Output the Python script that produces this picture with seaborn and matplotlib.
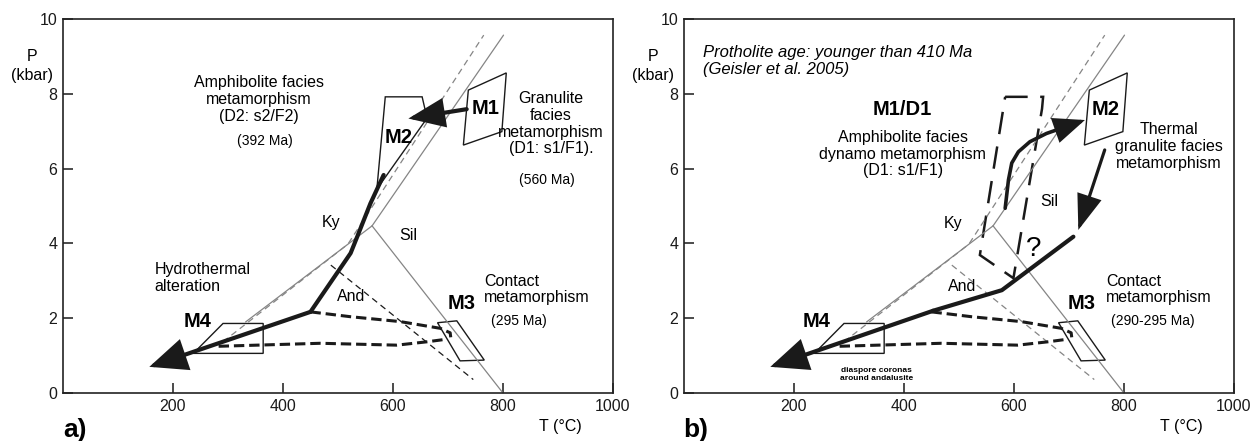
import matplotlib
matplotlib.use("Agg")
import matplotlib.pyplot as plt
from matplotlib.patches import Polygon
import seaborn as sns

# ---------------- data (T in degC, P in kbar) ----------------
x_ticks = [200, 400, 600, 800, 1000]
y_ticks = [0, 2, 4, 6, 8, 10]

# Aluminosilicate phase diagram (solid grey)
kysil_T = [562, 801]
kysil_P = [4.47, 9.57]
andky_T = [332, 562]
andky_P = [1.90, 4.47]
andsil_T = [562, 800]
andsil_P = [4.47, 0.0]
# alternative calibration (dashed)
kysil2_T = [291, 518, 765]
kysil2_P = [1.37, 3.98, 9.57]
andsil2_T = [487, 746]
andsil2_P = [3.42, 0.36]

# PT boxes
m1_T = [737, 806, 798, 728]
m1_P = [8.10, 8.56, 6.99, 6.63]
m2a_T = [586, 653, 662, 573, 571]
m2a_P = [7.92, 7.92, 7.35, 5.50, 5.50]
m3_T = [681, 716, 766, 722]
m3_P = [1.88, 1.93, 0.88, 0.86]
m4_T = [291, 364, 364, 237]
m4_P = [1.86, 1.86, 1.06, 1.06]
qbox_T = [584, 653, 651, 599, 538]
qbox_P = [7.92, 7.92, 7.60, 3.07, 3.69]

# PT paths panel a
patha_T = [583, 559, 535, 523, 450, 157]
patha_P = [5.83, 5.07, 4.18, 3.74, 2.17, 0.70]
m1arrow_T = [734, 628]
m1arrow_P = [7.59, 7.34]
# PT paths panel b
pathb_T = [708, 578, 453, 157]
pathb_P = [4.18, 2.75, 2.20, 0.70]
curve_T = [584, 590, 596, 608, 629, 659, 690, 729]
curve_P = [4.94, 5.70, 6.15, 6.45, 6.72, 6.94, 7.10, 7.30]
cool_T = [765, 717]
cool_P = [6.50, 4.36]
# dashed contact loops (both panels)
loopup_T = [450, 523, 613, 686, 704, 705]
loopup_P = [2.17, 2.04, 1.91, 1.73, 1.61, 1.49]
looplo_T = [283, 468, 607, 662, 698]
looplo_P = [1.25, 1.33, 1.28, 1.37, 1.44]

GREY = "#858585"

sns.set_theme(style="white")
plt.rcParams["font.family"] = ["Liberation Sans", "DejaVu Sans"]
plt.rcParams["text.color"] = "black"
plt.rcParams["axes.labelcolor"] = "black"
plt.rcParams["xtick.color"] = "black"
plt.rcParams["ytick.color"] = "black"

fig = plt.figure(figsize=(12.52, 4.41), dpi=100)
ax1 = fig.add_axes([0.0503, 0.1088, 0.4393, 0.848])
ax2 = fig.add_axes([0.5463, 0.1088, 0.4393, 0.848])


def line(ax, T, P, color="k", lw=1.0, dashes=None):
    n = len(ax.lines)
    sns.lineplot(x=T, y=P, sort=False, estimator=None, ax=ax,
                 color=color, linewidth=lw)
    ln = ax.lines[n]
    if dashes is not None:
        ln.set_dashes(dashes)
    ln.set_solid_joinstyle("round")
    ln.set_clip_on(False)
    return ln


def poly(ax, T, P, lw=1.0, dashes=None):
    p = Polygon(list(zip(T, P)), closed=True, fill=False, edgecolor="k",
                lw=lw, joinstyle="miter")
    if dashes is not None:
        p.set_linestyle((0, dashes))
    ax.add_patch(p)


def arrow(ax, T, P, lw, hl, hw):
    ax.annotate("", xy=(T[-1], P[-1]), xytext=(T[-2], P[-2]),
                arrowprops=dict(arrowstyle=f"-|>,head_length={hl},head_width={hw}",
                                mutation_scale=10, color="k", lw=lw,
                                shrinkA=0, shrinkB=0, joinstyle="miter"))


def frame(ax, label):
    ax.set_xlim(0, 1000)
    ax.set_ylim(0, 10)
    ax.set_xticks(x_ticks)
    ax.set_yticks(y_ticks)
    ax.set_xticklabels([str(v) for v in x_ticks])
    ax.set_yticklabels([str(v) for v in y_ticks])
    ax.tick_params(direction="in", length=7, width=1.1, labelsize=11.5,
                   colors="k", labelcolor="k", pad=4, bottom=True, left=True)
    ax.set_xlabel("")
    ax.set_ylabel("")
    for s in ax.spines.values():
        s.set_color("#222222")
        s.set_linewidth(1.2)
        s.set_visible(True)
    ax.text(-56, 9.00, "P", ha="center", va="center", fontsize=11.5, clip_on=False)
    ax.text(-56, 8.48, "(kbar)", ha="center", va="center", fontsize=11.5, clip_on=False)
    ax.text(904, -0.9, "T (°C)", ha="center", va="center", fontsize=11.5, clip_on=False)
    ax.text(22, -1.0, label, ha="center", va="center", fontsize=19,
            fontweight="bold", clip_on=False)


def phase_diagram(ax, andsil_col):
    line(ax, kysil_T, kysil_P, GREY, 0.9)
    line(ax, andky_T, andky_P, GREY, 0.9)
    line(ax, andsil_T, andsil_P, GREY, 0.9)
    line(ax, kysil2_T, kysil2_P, GREY, 0.9, dashes=(5, 3.5))
    line(ax, andsil2_T, andsil2_P, andsil_col, 0.9, dashes=(5, 3.5))


def loops(ax):
    line(ax, loopup_T, loopup_P, "k", 2.2, dashes=(3.4, 1.6))
    line(ax, looplo_T, looplo_P, "k", 2.2, dashes=(3.4, 1.6))


# ---------------- panel a ----------------
frame(ax1, "a)")
phase_diagram(ax1, "k")
poly(ax1, m1_T, m1_P)
poly(ax1, m2a_T, m2a_P)
poly(ax1, m3_T, m3_P)
poly(ax1, m4_T, m4_P)
loops(ax1)
line(ax1, patha_T[:-1], patha_P[:-1], "k", 3.0)
arrow(ax1, patha_T, patha_P, 3.0, 2.2, 0.95)
arrow(ax1, m1arrow_T, m1arrow_P, 3.0, 2.1, 0.85)

fs = 11.5
ax1.text(356, 7.85, "Amphibolite facies\nmetamorphism\n(D2: s2/F2)", ha="center",
         va="center", fontsize=fs, linespacing=1.15)
ax1.text(367, 6.75, "(392 Ma)", ha="center", va="center", fontsize=10)
ax1.text(610, 6.84, "M2", ha="center", va="center", fontsize=14.5, fontweight="bold")
ax1.text(768, 7.61, "M1", ha="center", va="center", fontsize=14.5, fontweight="bold")
ax1.text(887, 7.2, "Granulite\nfacies\nmetamorphism\n(D1: s1/F1).", ha="center",
         va="center", fontsize=fs, linespacing=1.15)
ax1.text(880, 5.70, "(560 Ma)", ha="center", va="center", fontsize=10)
ax1.text(488, 4.55, "Ky", ha="center", va="center", fontsize=fs)
ax1.text(627, 4.22, "Sil", ha="center", va="center", fontsize=fs)
ax1.text(524, 2.57, "And", ha="center", va="center", fontsize=fs)
ax1.text(725, 2.40, "M3", ha="center", va="center", fontsize=14.5, fontweight="bold")
ax1.text(766, 2.77, "Contact\nmetamorphism", ha="left", va="center", fontsize=fs,
         linespacing=1.15)
ax1.text(778, 1.93, "(295 Ma)", ha="left", va="center", fontsize=10)
ax1.text(167, 3.07, "Hydrothermal\nalteration", ha="left", va="center", fontsize=fs,
         linespacing=1.15)
ax1.text(244, 1.90, "M4", ha="center", va="center", fontsize=14.5, fontweight="bold")

# ---------------- panel b ----------------
frame(ax2, "b)")
phase_diagram(ax2, GREY)
poly(ax2, m1_T, m1_P)
poly(ax2, m3_T, m3_P)
poly(ax2, m4_T, m4_P)
poly(ax2, qbox_T, qbox_P, lw=1.8, dashes=(9, 5))
loops(ax2)
line(ax2, pathb_T[:-1], pathb_P[:-1], "k", 3.0)
arrow(ax2, pathb_T, pathb_P, 3.0, 2.2, 0.95)
line(ax2, curve_T[:-1], curve_P[:-1], "k", 2.6)
arrow(ax2, curve_T, curve_P, 2.6, 1.8, 0.75)
arrow(ax2, cool_T, cool_P, 2.3, 2.1, 0.75)

ax2.text(34, 8.87, "Protholite age: younger than 410 Ma\n(Geisler et al. 2005)", ha="left",
         va="center", fontsize=12, fontstyle="italic", linespacing=1.15)
ax2.text(397, 7.57, "M1/D1", ha="center", va="center", fontsize=14.5, fontweight="bold")
ax2.text(398, 6.39, "Amphibolite facies\ndynamo metamorphism\n(D1: s1/F1)", ha="center",
         va="center", fontsize=fs, linespacing=1.15)
ax2.text(767, 7.57, "M2", ha="center", va="center", fontsize=14.5, fontweight="bold")
ax2.text(882, 6.59, "Thermal\ngranulite facies\nmetamorphism", ha="center", va="center",
         fontsize=fs, linespacing=1.15)
ax2.text(490, 4.54, "Ky", ha="center", va="center", fontsize=fs)
ax2.text(665, 5.11, "Sil", ha="center", va="center", fontsize=fs)
ax2.text(635, 3.85, "?", ha="center", va="center", fontsize=20)
ax2.text(505, 2.84, "And", ha="center", va="center", fontsize=fs)
ax2.text(723, 2.40, "M3", ha="center", va="center", fontsize=14.5, fontweight="bold")
ax2.text(768, 2.77, "Contact\nmetamorphism", ha="left", va="center", fontsize=fs,
         linespacing=1.15)
ax2.text(777, 1.93, "(290-295 Ma)", ha="left", va="center", fontsize=10)
ax2.text(241, 1.90, "M4", ha="center", va="center", fontsize=14.5, fontweight="bold")
ax2.text(350, 0.50, "diaspore coronas\naround andalusite", ha="center", va="center",
         fontsize=6, fontweight="bold", linespacing=1.1)

fig.savefig("out.png", dpi=100)
